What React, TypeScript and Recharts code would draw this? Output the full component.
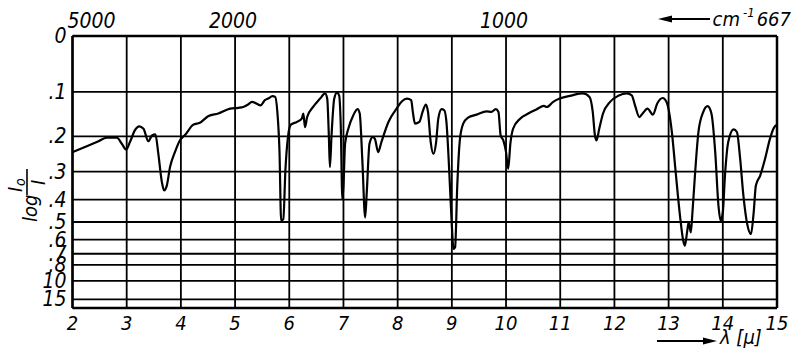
import React from "react";
import { LineChart, Line, XAxis, YAxis, CartesianGrid, ReferenceLine } from "recharts";

// wavelength in micrometres
const WAVELENGTH = [
  2.0, 2.23, 2.48, 2.63, 2.82, 2.91, 2.99, 3.06, 3.15, 3.23, 3.31, 3.4, 3.47, 3.53, 3.58, 3.65, 3.69, 3.74, 3.8, 3.89,
  3.98, 4.08, 4.23, 4.35, 4.51, 4.69, 4.91, 5.06, 5.15, 5.24, 5.31, 5.39, 5.47, 5.55, 5.61, 5.69, 5.74, 5.78, 5.82, 5.85,
  5.89, 5.93, 5.98, 6.03, 6.14, 6.23, 6.26, 6.29, 6.33, 6.44, 6.57, 6.66, 6.7, 6.73, 6.75, 6.78, 6.83, 6.88, 6.92, 6.95,
  6.98, 7.0, 7.03, 7.09, 7.18, 7.26, 7.3, 7.35, 7.4, 7.43, 7.48, 7.54, 7.58, 7.64, 7.7, 7.83, 7.98, 8.08, 8.17, 8.25,
  8.28, 8.32, 8.4, 8.46, 8.52, 8.56, 8.61, 8.66, 8.71, 8.75, 8.81, 8.86, 8.9, 8.95, 9.0, 9.03, 9.06, 9.1, 9.15, 9.21,
  9.3, 9.46, 9.64, 9.73, 9.81, 9.86, 9.9, 9.95, 10.0, 10.04, 10.08, 10.13, 10.26, 10.41, 10.56, 10.7, 10.75, 10.87, 10.99, 11.2,
  11.42, 11.54, 11.6, 11.64, 11.67, 11.72, 11.79, 11.92, 12.07, 12.23, 12.32, 12.38, 12.46, 12.52, 12.61, 12.71, 12.79, 12.89, 12.96, 13.06,
  13.13, 13.21, 13.27, 13.3, 13.34, 13.37, 13.41, 13.44, 13.49, 13.55, 13.64, 13.72, 13.79, 13.86, 13.92, 13.96, 14.0, 14.04, 14.1, 14.2,
  14.26, 14.32, 14.38, 14.45, 14.52, 14.57, 14.61, 14.69, 14.78, 14.87, 14.95, 15.0,
];

// transmittance I/I0 (the paper is linear in I/I0, labelled in log I0/I)
const TRANSMITTANCE = [
  0.573, 0.592, 0.613, 0.626, 0.626, 0.604, 0.583, 0.61, 0.653, 0.668, 0.659, 0.613, 0.635, 0.638, 0.573, 0.462, 0.432, 0.45, 0.518, 0.573,
  0.616, 0.637, 0.674, 0.681, 0.706, 0.715, 0.733, 0.736, 0.739, 0.748, 0.758, 0.752, 0.745, 0.764, 0.77, 0.779, 0.776, 0.721, 0.573, 0.321,
  0.327, 0.512, 0.635, 0.674, 0.684, 0.696, 0.715, 0.665, 0.702, 0.739, 0.77, 0.789, 0.77, 0.635, 0.518, 0.635, 0.77, 0.792, 0.782, 0.672,
  0.4, 0.45, 0.604, 0.659, 0.708, 0.731, 0.715, 0.536, 0.333, 0.425, 0.604, 0.628, 0.622, 0.573, 0.61, 0.684, 0.733, 0.76, 0.77, 0.764,
  0.721, 0.678, 0.684, 0.721, 0.748, 0.721, 0.61, 0.567, 0.61, 0.696, 0.731, 0.727, 0.684, 0.512, 0.303, 0.217, 0.223, 0.45, 0.622, 0.678,
  0.7, 0.711, 0.723, 0.721, 0.731, 0.721, 0.635, 0.616, 0.573, 0.512, 0.604, 0.659, 0.696, 0.715, 0.73, 0.743, 0.739, 0.758, 0.77, 0.781,
  0.789, 0.776, 0.721, 0.635, 0.616, 0.659, 0.715, 0.758, 0.78, 0.789, 0.782, 0.745, 0.702, 0.715, 0.733, 0.711, 0.752, 0.772, 0.758, 0.647,
  0.5, 0.339, 0.247, 0.229, 0.278, 0.315, 0.278, 0.352, 0.5, 0.647, 0.721, 0.742, 0.715, 0.573, 0.376, 0.321, 0.352, 0.487, 0.61, 0.657,
  0.647, 0.549, 0.413, 0.309, 0.272, 0.352, 0.45, 0.487, 0.549, 0.622, 0.665, 0.674,
];

const X_TICKS = [2, 3, 4, 5, 6, 7, 8, 9, 10, 11, 12, 13, 14, 15];
const TOP_TICKS = [2, 5, 10];
const TOP_LABELS = ["5000", "2000", "1000"];
const ABS_TICKS = [0, 0.1, 0.2, 0.3, 0.4, 0.5, 0.6, 0.7, 0.8, 1.0, 1.5];
const ABS_LABELS = ["0", ".1", ".2", ".3", ".4", ".5", ".6", ".7", ".8", "10", "15"];

const FONT = "'Liberation Sans Narrow', 'DejaVu Sans Condensed', 'Liberation Sans', sans-serif";

const data = WAVELENGTH.map((w, i) => ({ wl: w, t: TRANSMITTANCE[i] }));
const T_TICKS = ABS_TICKS.map((a) => Math.pow(10, -a));

const BottomTick = (props: any) => {
  const { x, y, payload } = props;
  return (
    <text x={x} y={y + 22} textAnchor="middle" fontFamily={FONT} fontStyle="italic" fontSize={20} fill="#000">
      {payload.value}
    </text>
  );
};

const TopTick = (props: any) => {
  const { x, y, payload } = props;
  const idx = TOP_TICKS.indexOf(payload.value);
  const first = idx === 0;
  return (
    <text
      x={first ? x - 5 : x - 2}
      y={y - 8}
      textAnchor={first ? "start" : "middle"}
      fontFamily={FONT}
      fontStyle="italic"
      fontSize={21}
      fill="#000"
    >
      {TOP_LABELS[idx]}
    </text>
  );
};

const LeftTick = (props: any) => {
  const { x, y, payload } = props;
  let idx = 0;
  let best = Infinity;
  T_TICKS.forEach((t, i) => {
    const d = Math.abs(t - payload.value);
    if (d < best) {
      best = d;
      idx = i;
    }
  });
  return (
    <text x={x - 6} y={y + 7} textAnchor="end" fontFamily={FONT} fontStyle="italic" fontSize={21} fill="#000">
      {ABS_LABELS[idx]}
    </text>
  );
};

export default function App() {
  return (
    <div style={{ position: "absolute", left: 0, top: 0, width: 793, height: 349, background: "#fff" }}>
      <LineChart width={793} height={349} data={data} margin={{ top: 6, right: 16, bottom: 11, left: 12 }}>
        <XAxis
          xAxisId="b"
          dataKey="wl"
          type="number"
          domain={[2, 15]}
          ticks={X_TICKS}
          interval={0}
          height={30}
          axisLine={false}
          tickLine={false}
          tickSize={0}
          tickMargin={0}
          tick={<BottomTick />}
        />
        <XAxis
          xAxisId="t"
          orientation="top"
          dataKey="wl"
          type="number"
          domain={[2, 15]}
          ticks={TOP_TICKS}
          interval={0}
          height={30}
          axisLine={false}
          tickLine={false}
          tickSize={0}
          tickMargin={0}
          tick={<TopTick />}
        />
        <YAxis
          type="number"
          domain={[0, 1]}
          ticks={T_TICKS}
          interval={0}
          width={60.5}
          axisLine={false}
          tickLine={false}
          tickSize={0}
          tickMargin={0}
          tick={<LeftTick />}
        />
        <CartesianGrid xAxisId="b" stroke="#000" strokeWidth={1.8} />
        <ReferenceLine xAxisId="b" x={2} stroke="#000" strokeWidth={2.5} />
        <ReferenceLine xAxisId="b" x={15} stroke="#000" strokeWidth={2.5} />
        <ReferenceLine xAxisId="b" y={1} stroke="#000" strokeWidth={2.5} />
        <ReferenceLine xAxisId="b" y={0} stroke="#000" strokeWidth={2.5} />
        <Line
          xAxisId="b"
          dataKey="t"
          type="monotone"
          stroke="#000"
          strokeWidth={2.2}
          dot={false}
          isAnimationActive={false}
        />
      </LineChart>
      <svg
        width={793}
        height={349}
        style={{ position: "absolute", left: 0, top: 0, pointerEvents: "none" }}
      >
        {/* top right: wavenumber unit */}
        <line x1={668} y1={19} x2={710} y2={19} stroke="#000" strokeWidth={1.8} />
        <polygon points="658,19 672,15.5 672,22.5" fill="#000" />
        <text x={740} y={26} textAnchor="end" fontFamily={FONT} fontStyle="italic" fontSize={20} fill="#000">
          cm
        </text>
        <text x={743} y={17} fontFamily={FONT} fontStyle="italic" fontSize={13} fill="#000">
          -1
        </text>
        <text x={791} y={26} textAnchor="end" fontFamily={FONT} fontStyle="italic" fontSize={20} fill="#000">
          667
        </text>
        {/* bottom right: wavelength unit */}
        <line x1={657} y1={341} x2={706} y2={341} stroke="#000" strokeWidth={1.8} />
        <polygon points="717,341 703,337.5 703,344.5" fill="#000" />
        <text x={720} y={344} fontFamily={FONT} fontStyle="italic" fontSize={20} fill="#000">
          λ [μ]
        </text>
        {/* y axis title */}
        <g transform="translate(28,196) rotate(-90)">
          <text x={-26} y={9} fontFamily={FONT} fontStyle="italic" fontSize={20} fill="#000">
            log
          </text>
          <text x={4} y={-6} fontFamily={FONT} fontStyle="italic" fontSize={20} fill="#000">
            I
          </text>
          <text x={10} y={-3} fontFamily={FONT} fontStyle="italic" fontSize={14} fill="#000">
            o
          </text>
          <line x1={1} y1={-1} x2={27} y2={-1} stroke="#000" strokeWidth={1.6} />
          <text x={11} y={17} fontFamily={FONT} fontStyle="italic" fontSize={20} fill="#000">
            I
          </text>
        </g>
      </svg>
    </div>
  );
}
